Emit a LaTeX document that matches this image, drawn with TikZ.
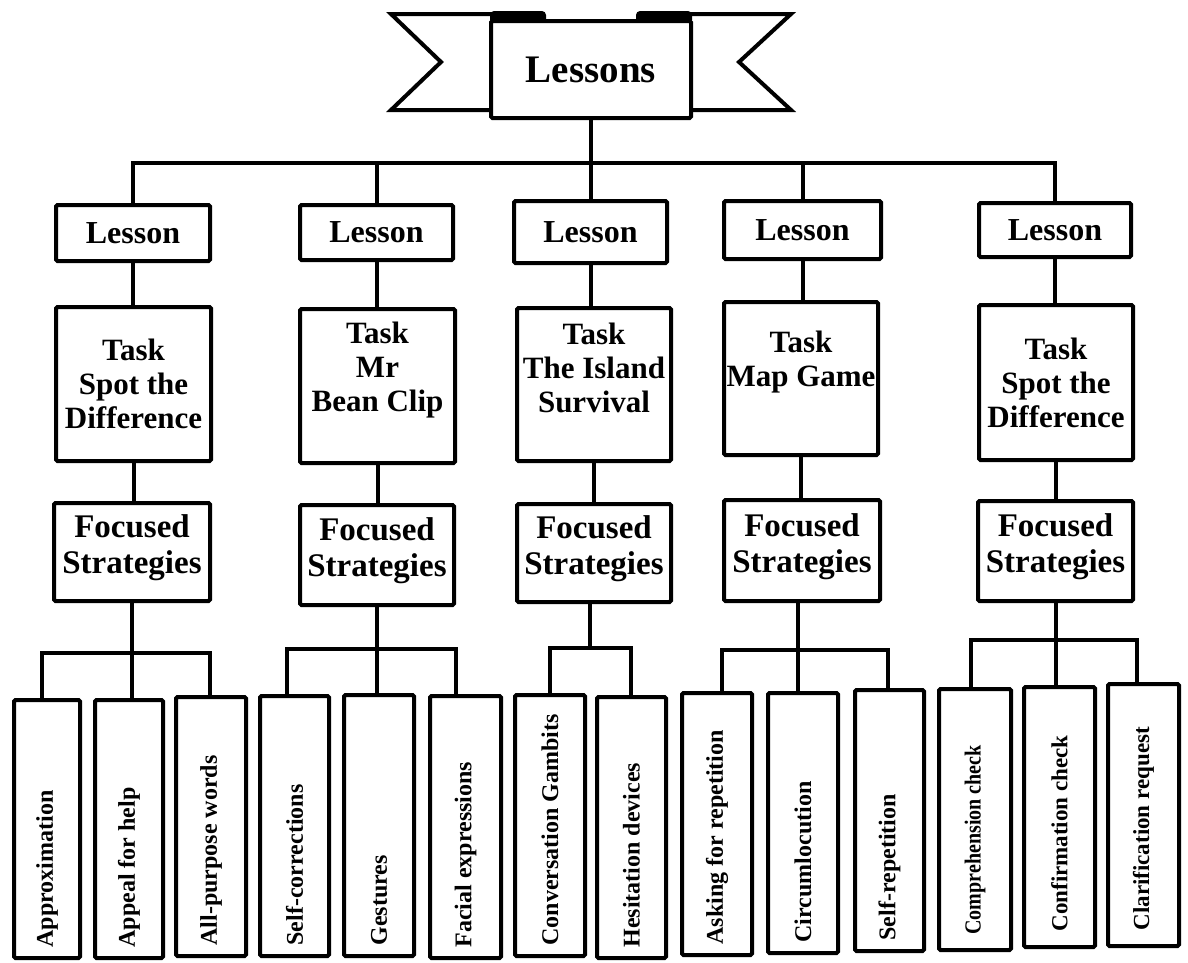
\documentclass[tikz,border=0pt]{standalone}
\usepackage{fontspec}
\setmainfont{Liberation Serif}
\begin{document}
\begin{tikzpicture}[x=1pt,y=-1pt,
  ln/.style={line width=4pt},
  bx/.style={draw, line width=4pt, rounded corners=1.5pt, fill=white, inner sep=0pt, align=center},
  lessonfont/.style={font=\fontsize{32}{34}\selectfont\bfseries},
  taskfont/.style={font=\fontsize{31}{34}\selectfont\bfseries},
  focfont/.style={font=\fontsize{33}{36}\selectfont\bfseries},
  leaf/.style={bx},
  vlab/.style={yshift=9pt, rotate=90, anchor=west, font=\fontsize{24}{26}\selectfont\bfseries},
  vlabs/.style={yshift=14pt, rotate=90, anchor=west, font=\fontsize{23}{25}\selectfont\bfseries}
]
\useasboundingbox (0,0) rectangle (1188,962);
\fill[white] (0,0) rectangle (1188,962);

% ---- banner ----
\draw[ln, fill=white, line join=miter] (543,14) -- (391,14) -- (441,62) -- (391,110) -- (545,110);
\draw[ln, fill=white, line join=miter] (638,14) -- (791,14) -- (739,62) -- (791,110) -- (636,110);
\fill[rounded corners=4pt] (490,11) rectangle (546,24);
\fill[rounded corners=4pt] (636,11) rectangle (692,24);
\node[bx, minimum width=200pt, minimum height=97pt, font=\fontsize{39}{41}\selectfont\bfseries] (B) at (591,69.5) {Lessons};

% ---- lesson boxes ----
\node[bx, lessonfont, minimum width=154pt, minimum height=56pt] (L1) at (133,233) {Lesson};
\node[bx, lessonfont, minimum width=153pt, minimum height=55pt] (L2) at (376.5,232.5) {Lesson};
\node[bx, lessonfont, minimum width=153pt, minimum height=62pt] (L3) at (590.5,232) {Lesson};
\node[bx, lessonfont, minimum width=157pt, minimum height=58pt] (L4) at (802.5,230) {Lesson};
\node[bx, lessonfont, minimum width=152pt, minimum height=54pt] (L5) at (1055,230) {Lesson};

% ---- task boxes ----
\node[bx, minimum width=155pt, minimum height=154pt,
  label={[taskfont, align=center]center:Task\\Spot the\\Difference}] (T1) at (133.5,384) {};
\node[bx, minimum width=155pt, minimum height=154pt,
  label={[taskfont, align=center, yshift=16pt]center:Task\\Mr\\Bean Clip}] (T2) at (377.5,386) {};
\node[bx, minimum width=154pt, minimum height=153pt,
  label={[taskfont, align=center, yshift=17pt]center:Task\\The Island\\Survival}] (T3) at (594,384.5) {};
\node[bx, minimum width=154pt, minimum height=153pt,
  label={[taskfont, align=center, yshift=16pt]center:Task\\Map Game}] (T4) at (801,378.5) {};
\node[bx, minimum width=154pt, minimum height=155pt,
  label={[taskfont, align=center]center:Task\\Spot the\\Difference}] (T5) at (1056,382.5) {};

% ---- focused strategies ----
\node[bx, minimum width=156pt, minimum height=98pt,
  label={[focfont, align=center, yshift=4pt]center:Focused\\Strategies}] (F1) at (132,552) {};
\node[bx, minimum width=154pt, minimum height=100pt,
  label={[focfont, align=center, yshift=4pt]center:Focused\\Strategies}] (F2) at (377,555) {};
\node[bx, minimum width=154pt, minimum height=98pt,
  label={[focfont, align=center, yshift=4pt]center:Focused\\Strategies}] (F3) at (594,553) {};
\node[bx, minimum width=156pt, minimum height=101pt,
  label={[focfont, align=center, yshift=4pt]center:Focused\\Strategies}] (F4) at (802,550.5) {};
\node[bx, minimum width=155pt, minimum height=100pt,
  label={[focfont, align=center, yshift=4pt]center:Focused\\Strategies}] (F5) at (1055.5,551) {};

% ---- leaf boxes ----
\node[leaf, minimum width=66pt, minimum height=258pt, label={[vlab]south:Approximation}] (A1) at (47,829) {};
\node[leaf, minimum width=68pt, minimum height=258pt, label={[vlab]south:Appeal for help}] (A2) at (129,829) {};
\node[leaf, minimum width=70pt, minimum height=259pt, label={[vlab]south:All-purpose words}] (A3) at (211,826.5) {};

\node[leaf, minimum width=69pt, minimum height=260pt, label={[vlab]south:Self-corrections}] (B1) at (294.5,826) {};
\node[leaf, minimum width=70pt, minimum height=261pt, label={[vlab]south:Gestures}] (B2) at (379,825.5) {};
\node[leaf, minimum width=71pt, minimum height=262pt, label={[vlab]south:Facial expressions}] (B3) at (465.5,827) {};

\node[leaf, minimum width=70pt, minimum height=261pt, label={[vlab]south:Conversation Gambits}] (C1) at (550,825.5) {};
\node[leaf, minimum width=69pt, minimum height=261pt, label={[vlab]south:Hesitation devices}] (C2) at (631.5,827.5) {};

\node[leaf, minimum width=70pt, minimum height=262pt, label={[vlab]south:Asking for repetition}] (D1) at (717,824) {};
\node[leaf, minimum width=70pt, minimum height=260pt, label={[vlab]south:Circumlocution}] (D2) at (803,823) {};
\node[leaf, minimum width=69pt, minimum height=261pt, label={[vlab]south:Self-repetition}] (D3) at (889.5,820.5) {};

\node[leaf, minimum width=72pt, minimum height=261pt, label={[vlabs]south:\scalebox{0.87}[1]{Comprehension check}}] (E1) at (975,819.5) {};
\node[leaf, minimum width=71pt, minimum height=260pt, label={[vlabs]south:Confirmation check}] (E2) at (1059.5,817) {};
\node[leaf, minimum width=71pt, minimum height=262pt, label={[vlabs]south:Clarification request}] (E3) at (1143.5,815) {};

% ---- main bus ----
\coordinate (mb) at (591,163);
\draw[ln] (B.south) -- (mb);
\draw[ln] (L1.north) |- (mb) -| (L5.north);
\draw[ln] (L2.north) -- (L2.north |- mb);
\draw[ln] (L3.north) -- (L3.north |- mb);
\draw[ln] (L4.north) -- (L4.north |- mb);

% ---- lesson -> task -> focused ----
\foreach \c in {1,...,5}{
  \draw[ln] (L\c.south) -- (L\c.south |- T\c.north);
  \draw[ln] (T\c.south) -- (T\c.south |- F\c.north);
}

% ---- sub-buses ----
\coordinate (s1l) at (42,653);   \coordinate (s1r) at (210,653);
\draw[ln] (A1.north -| s1l) -- (s1l) -- (s1r) -- (A3.north -| s1r);
\draw[ln] (F1.south) -- (F1.south |- A2.north);

\coordinate (s2l) at (287,649);  \coordinate (s2r) at (456,649);
\draw[ln] (B1.north -| s2l) -- (s2l) -- (s2r) -- (B3.north -| s2r);
\draw[ln] (F2.south) -- (F2.south |- B2.north);

\coordinate (s3l) at (550,648);  \coordinate (s3r) at (631,648);
\draw[ln] (C1.north -| s3l) -- (s3l) -- (s3r) -- (C2.north -| s3r);
\coordinate (s3m) at (590,648);
\draw[ln] (F3.south -| s3m) -- (s3m);

\coordinate (s4l) at (722,650);  \coordinate (s4r) at (888,650);  \coordinate (s4m) at (798,650);
\draw[ln] (D1.north -| s4l) -- (s4l) -- (s4r) -- (D3.north -| s4r);
\draw[ln] (F4.south -| s4m) -- (D2.north -| s4m);

\coordinate (s5l) at (971,640);  \coordinate (s5r) at (1137,640);
\draw[ln] (E1.north -| s5l) -- (s5l) -- (s5r) -- (E3.north -| s5r);
\draw[ln] (F5.south) -- (F5.south |- E2.north);
\end{tikzpicture}
\end{document}
